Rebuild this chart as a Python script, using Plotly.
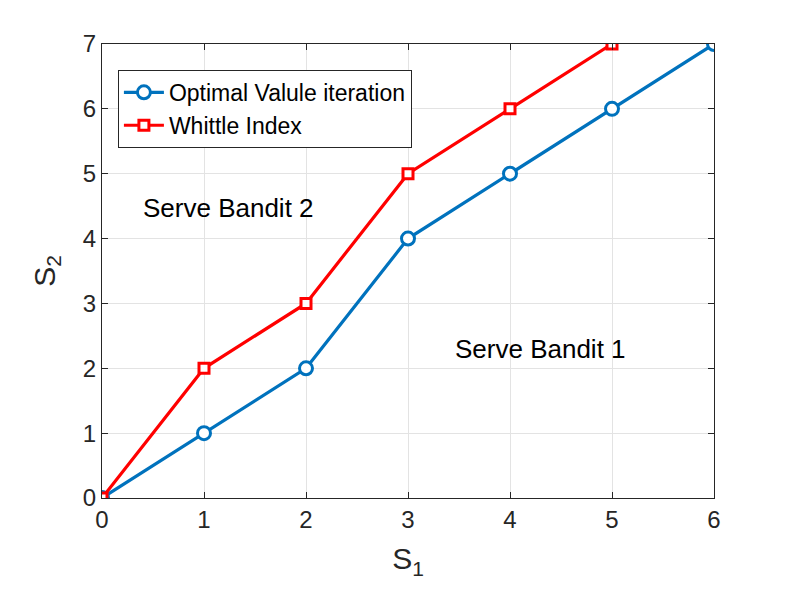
import plotly.graph_objects as go

s1_opt = [0, 1, 2, 3, 4, 5, 6]
s2_opt = [0, 1, 2, 4, 5, 6, 7]
s1_whittle = [0, 1, 2, 3, 4, 5]
s2_whittle = [0, 2, 3, 5, 6, 7]

fnt = "Liberation Sans, Arial, sans-serif"
axcol = "#262626"

fig = go.Figure()

fig.add_trace(go.Scatter(
    x=s1_opt, y=s2_opt,
    mode='lines+markers',
    line=dict(color='#0072BD', width=3.2),
    marker=dict(symbol='circle', size=13, color='white',
                line=dict(color='#0072BD', width=3)),
    name='Optimal Valule iteration'
))

fig.add_trace(go.Scatter(
    x=s1_whittle, y=s2_whittle,
    mode='lines+markers',
    line=dict(color='#FF0000', width=3.2),
    marker=dict(symbol='square', size=10, color='white',
                line=dict(color='#FF0000', width=3)),
    name='Whittle Index'
))

fig.add_annotation(x=0.38, y=4.47, text="Serve Bandit 2", showarrow=False,
                   xanchor='left', font=dict(family=fnt, size=26, color='black'))
fig.add_annotation(x=3.44, y=2.3, text="Serve Bandit 1", showarrow=False,
                   xanchor='left', font=dict(family=fnt, size=26, color='black'))

axis_common = dict(
    showgrid=True, gridcolor='#e3e3e3', gridwidth=1,
    showline=True, linecolor=axcol, linewidth=1, mirror='ticks',
    ticks='inside', ticklen=6, tickcolor=axcol,
    tickfont=dict(family=fnt, size=24, color=axcol),
    zeroline=False, dtick=1,
)

fig.update_layout(
    width=789, height=592,
    margin=dict(l=94, r=83, t=36, b=102),
    plot_bgcolor='white', paper_bgcolor='white',
    xaxis=dict(range=[0, 6], title=dict(text="S<sub>1</sub>", standoff=16,
               font=dict(family=fnt, size=30, color=axcol)), **axis_common),
    yaxis=dict(range=[0, 7], title=dict(text="S<sub>2</sub>", standoff=18,
               font=dict(family=fnt, size=30, color=axcol)), **axis_common),
    legend=dict(x=0.026, y=0.943, xanchor='left', yanchor='top',
                bgcolor='white', bordercolor=axcol, borderwidth=1,
                font=dict(family=fnt, size=23, color='black'),
                tracegroupgap=0, itemwidth=40),
    showlegend=True,
)

fig.write_html("out.html")
